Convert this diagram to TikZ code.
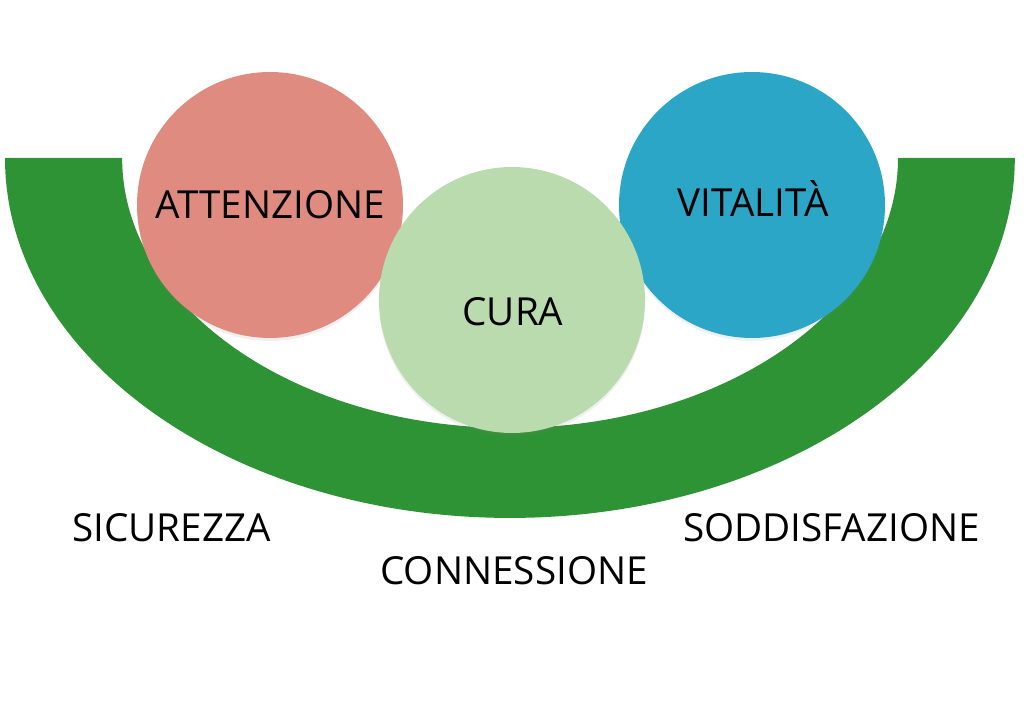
\documentclass[tikz,border=0pt]{standalone}
\usepackage{fontspec}
\setmainfont{Open Sans}
\usepackage{xcolor}
\usepackage{tikz}
\usetikzlibrary{positioning, calc, shadows}
\definecolor{bandgreen}{RGB}{46, 147, 52}
\definecolor{salmon}{RGB}{224, 139, 128}
\definecolor{softgreen}{RGB}{185, 219, 174}
\definecolor{skyblue}{RGB}{44, 166, 199}

\begin{document}
\begin{tikzpicture}[x=0.02cm, y=0.02cm,
  ball/.style={circle, inner sep=0pt, minimum size=5.32cm, drop shadow={opacity=0.12, shadow xshift=0pt, shadow yshift=-0.06cm}},
  word/.style={anchor=base, inner sep=0pt, font=\fontsize{22}{26}\selectfont}]
\useasboundingbox (0,0) rectangle (1024,726);
% green half ring
\fill[bandgreen] (5,568) arc[start angle=180, end angle=360, x radius=10.1cm, y radius=7.2cm] -- (898,568) arc[start angle=0, end angle=-180, x radius=7.76cm, y radius=5.4cm] -- cycle;
% circles
\node[ball, fill=salmon] (attenzione) at (270,521) {};
\node[ball, fill=skyblue] (vitalita) at (752,521) {};
\node[ball, fill=softgreen] (cura) at (512,426) {};
\node[word] (atttext) at ($(attenzione)+(0,-14)$) {ATTENZIONE};
\node[word] (vittext) at ($(vitalita)+(1,-12)$) {VITALITÀ};
\node[word] (curatext) at ($(cura)+(1,-26)$) {CURA};
% words below the ring
\node[word] (sicurezza) at (171.5,184) {SICUREZZA};
\node[word] (connessione) at (514,141) {CONNESSIONE};
\node[word] (soddisfazione) at (831.5,184) {SODDISFAZIONE};
\end{tikzpicture}
\end{document}
